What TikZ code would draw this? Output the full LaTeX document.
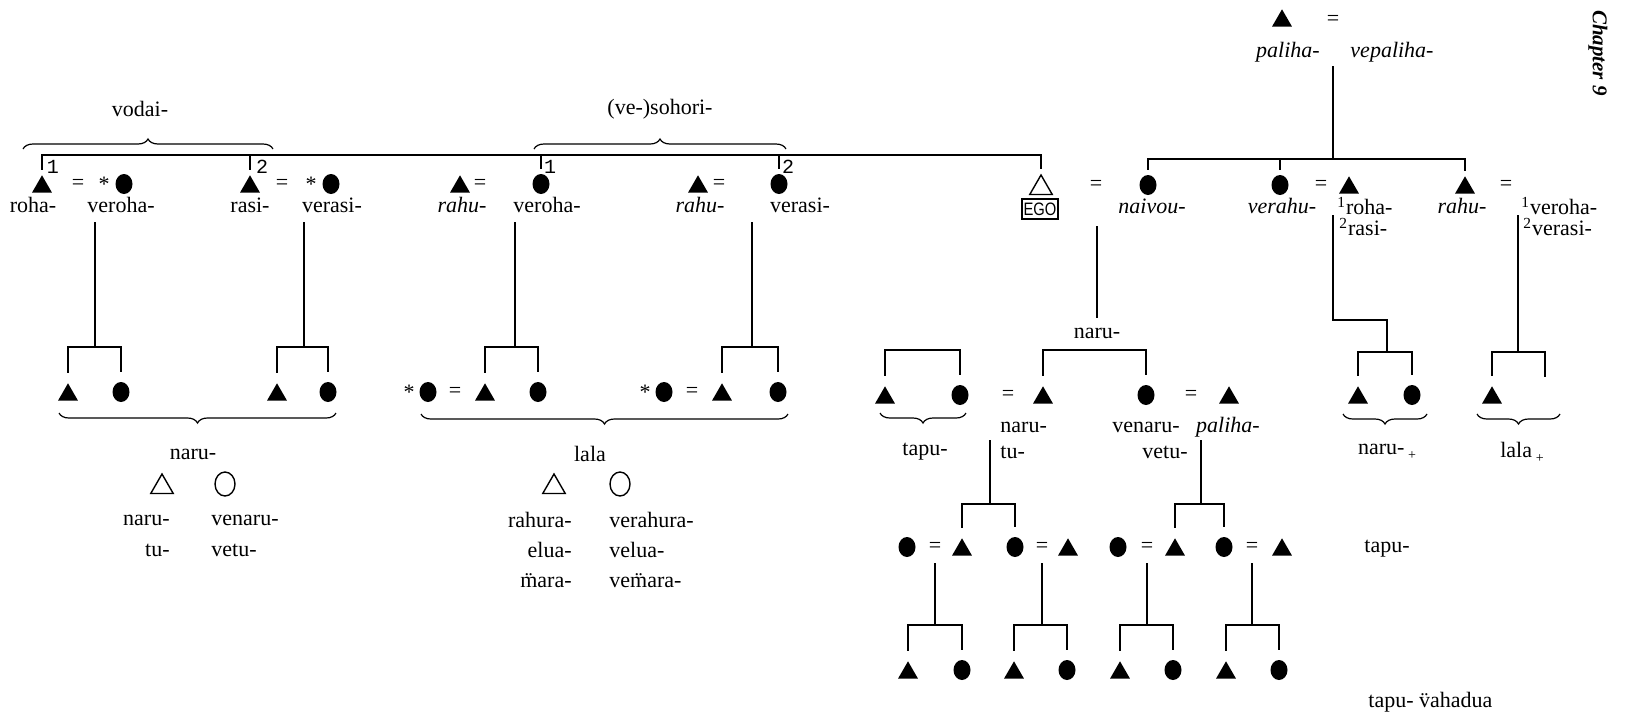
\documentclass[tikz,border=0pt]{standalone}
\usepackage{fontspec}
\setmainfont{Liberation Serif}
\newfontfamily\egofont{Liberation Sans}
\newfontfamily\numfont{Liberation Mono}
\usetikzlibrary{shapes.geometric,decorations.pathreplacing,calc}
\newcommand\dia[1]{\leavevmode\setbox0=\hbox{#1}\hbox to\wd0{\hss\char"A8\hss}\kern-\wd0\box0}
\begin{document}
\begin{tikzpicture}[x=0.5pt,y=-0.5pt,
 mtri/.style={regular polygon,regular polygon sides=3,fill=black,inner sep=0pt,minimum size=11.5pt,yshift=-1.4pt},
 otri/.style={regular polygon,regular polygon sides=3,draw=black,line width=0.7pt,inner sep=0pt,minimum size=13pt,yshift=-1.5pt},
 fcirc/.style={ellipse,fill=black,inner sep=0pt,minimum width=8.5pt,minimum height=10pt},
 ocirc/.style={ellipse,draw=black,line width=0.7pt,inner sep=0pt,minimum width=10pt,minimum height=12pt},
 lbl/.style={inner sep=0pt,font=\fontsize{11}{13}\selectfont},
 ilbl/.style={inner sep=0pt,font=\fontsize{11}{13}\selectfont\itshape},
 numlbl/.style={inner sep=0pt,font=\numfont\fontsize{10}{12}\selectfont},
 ln/.style={line width=1.3pt},
 brc/.style={decorate,decoration={brace,amplitude=5pt},line width=0.6pt}]
\useasboundingbox (0,0) rectangle (1637,719);

% ---------- top right: paliha couple ----------
\node[mtri] (pa) at (1282,18) {};
\node[lbl] (paeq) at (1333,20) {=};
\node[ilbl] (pal) at (1288,52) {paliha-};
\node[ilbl] (vpal) at (1392,52) {vepaliha-};
\coordinate (pstem) at (1333,66);
\coordinate (pbar) at (1333,159);
\node[rotate=-90,inner sep=0pt,font=\fontsize{10.5}{12}\selectfont\bfseries\itshape] (chap) at (1598,53) {Chapter 9};

% ---------- top braces ----------
\node[lbl] (vodai) at (140,109) {vodai-};
\node[lbl] (soh) at (660,109) {(ve-)sohori-};
\coordinate (bv1) at (23,149); \coordinate (bv2) at (273,149);
\coordinate (bs1) at (534,149); \coordinate (bs2) at (786,149);
\draw[brc] (bv1) -- (bv2);
\draw[brc] (bs1) -- (bs2);

% ---------- first generation row ----------
\node[mtri] (m1) at (42,184) {};
\node[lbl] (e1) at (78,184) {=};
\node[lbl] (st1) at (104,184) {*};
\node[fcirc] (w1) at (124,184) {};
\node[lbl] (t1) at (33,205) {roha-};
\node[lbl] (t2) at (121,205) {veroha-};

\node[mtri] (m2) at (250,184) {};
\node[lbl] (e2) at (282,184) {=};
\node[lbl] (st2) at (311,184) {*};
\node[fcirc] (w2) at (331,184) {};
\node[lbl] (t3) at (250,205) {rasi-};
\node[lbl] (t4) at (332,205) {verasi-};

\node[mtri] (h3) at (460,184) {};
\node[lbl] (e3) at (480,184) {=};
\node[fcirc] (s1w) at (541,184) {};
\node[ilbl] (t5) at (462,205) {rahu-};
\node[lbl] (t6) at (547,205) {veroha-};

\node[mtri] (h4) at (698,184) {};
\node[lbl] (e4) at (719,184) {=};
\node[fcirc] (s2w) at (779,184) {};
\node[ilbl] (t7) at (700,205) {rahu-};
\node[lbl] (t8) at (800,205) {verasi-};

\node[otri] (ego) at (1041,185) {};
\node[draw,line width=0.9pt,inner xsep=0.8pt,inner ysep=1.8pt,font=\egofont\fontsize{9}{10}\selectfont] (egob) at (1040,209) {\scalebox{0.82}[1]{EGO}};
\node[lbl] (e5) at (1096,185) {=};
\node[fcirc] (nv) at (1148,185) {};
\node[ilbl] (t9) at (1152,206) {naivou-};

\node[fcirc] (vh) at (1280,185) {};
\node[ilbl] (t10) at (1282,206) {verahu-};
\node[lbl] (e6) at (1321,185) {=};
\node[mtri] (vhh) at (1349,185) {};
\node[lbl,anchor=west] (t11) at (1337,206) {\textsuperscript{1}roha-};
\node[lbl,anchor=west] (t12) at (1339,227) {\textsuperscript{2}rasi-};

\node[mtri] (rh) at (1465,185) {};
\node[ilbl] (t13) at (1462,206) {rahu-};
\node[lbl] (e7) at (1506,185) {=};
\node[lbl,anchor=west] (t14) at (1521,206) {\textsuperscript{1}veroha-};
\node[lbl,anchor=west] (t15) at (1523,227) {\textsuperscript{2}verasi-};

% drop numbers
\node[numlbl] (n1) at (53,167) {1};
\node[numlbl] (n2) at (262,167) {2};
\node[numlbl] (n3) at (550,167) {1};
\node[numlbl] (n4) at (788,167) {2};

% sibling lines
\coordinate (topL) at (0,155);
\draw[ln] ([yshift=2.5pt]m1.north) -- (m1.north |- topL) -- (ego.north |- topL) -- ([yshift=2.5pt]ego.north);
\draw[ln] ([yshift=2.5pt]m2.north) -- (m2.north |- topL);
\draw[ln] ([yshift=2.5pt]s1w.north) -- (s1w.north |- topL);
\draw[ln] ([yshift=2.5pt]s2w.north) -- (s2w.north |- topL);

\draw[ln] (pstem) -- (pbar);
\draw[ln] ([yshift=2.5pt]nv.north) |- (pbar) -| ([yshift=2.5pt]rh.north);
\draw[ln] ([yshift=2.5pt]vh.north) -- (vh.north |- pbar);

% ---------- second generation, left ----------
\coordinate (v1) at (95,222);  \coordinate (b1) at (95,347);
\coordinate (v2) at (304,222); \coordinate (b2) at (304,347);
\coordinate (v3) at (515,222); \coordinate (b3) at (515,347);
\coordinate (v4) at (752,222); \coordinate (b4) at (752,347);
\draw[ln] (v1) -- (b1);
\draw[ln] (v2) -- (b2);
\draw[ln] (v3) -- (b3);
\draw[ln] (v4) -- (b4);

\node[mtri] (c1) at (68,392) {};
\node[fcirc] (c2) at (121,392) {};
\node[mtri] (c3) at (277,392) {};
\node[fcirc] (c4) at (328,392) {};
\draw[ln] ([yshift=5pt]c1.north) |- (b1) -| ([yshift=5pt]c2.north);
\draw[ln] ([yshift=5pt]c3.north) |- (b2) -| ([yshift=5pt]c4.north);

\node[lbl] (st3) at (409,392) {*};
\node[fcirc] (c5w) at (428,392) {};
\node[lbl] (e8) at (455,392) {=};
\node[mtri] (c5) at (485,392) {};
\node[fcirc] (c6) at (538,392) {};
\node[lbl] (st4) at (645,392) {*};
\node[fcirc] (c7w) at (664,392) {};
\node[lbl] (e9) at (692,392) {=};
\node[mtri] (c7) at (722,392) {};
\node[fcirc] (c8) at (778,392) {};
\draw[ln] ([yshift=5pt]c5.north) |- (b3) -| ([yshift=5pt]c6.north);
\draw[ln] ([yshift=5pt]c7.north) |- (b4) -| ([yshift=5pt]c8.north);

% lower braces left
\coordinate (bn1) at (336,413); \coordinate (bn2) at (59,413);
\coordinate (bl1) at (788,414); \coordinate (bl2) at (421,414);
\draw[brc] (bn1) -- (bn2);
\draw[brc] (bl1) -- (bl2);

\node[lbl] (naru) at (193,454) {naru-};
\node[otri] (o1) at (162,484) {};
\node[ocirc] (o2) at (225,484) {};
\node[lbl,anchor=east] (u1) at (170,520) {naru-};
\node[lbl,anchor=west] (u2) at (211,520) {venaru-};
\node[lbl,anchor=east] (u3) at (170,550) {tu-};
\node[lbl,anchor=west] (u4) at (211,550) {vetu-};

\node[lbl] (lala) at (590,454) {lala};
\node[otri] (o3) at (554,484) {};
\node[ocirc] (o4) at (620,484) {};
\node[lbl,anchor=east] (u5) at (572,520) {rahura-};
\node[lbl,anchor=west] (u6) at (609,520) {verahura-};
\node[lbl,anchor=east] (u7) at (572,550) {elua-};
\node[lbl,anchor=west] (u8) at (609,550) {velua-};
\node[lbl,anchor=east] (u9) at (572,581) {\dia{m}ara-};
\node[lbl,anchor=west] (u10) at (609,581) {ve\dia{m}ara-};

% ---------- EGO's children ----------
\coordinate (ev1) at (1097,226); \coordinate (ev2) at (1097,318);
\draw[ln] (ev1) -- (ev2);
\node[lbl] (naru2) at (1097,333) {naru-};
\coordinate (eb) at (1097,350);

\node[mtri] (k1) at (885,395) {};
\node[fcirc] (k2) at (960,395) {};
\coordinate (kb) at (922,350);
\draw[ln] ([yshift=5pt]k1.north) |- (kb) -| ([yshift=5pt]k2.north);
\node[lbl] (e10) at (1008,395) {=};
\node[mtri] (k3) at (1043,395) {};
\node[fcirc] (k4) at (1146,395) {};
\draw[ln] ([yshift=5pt]k3.north) |- (eb) -| ([yshift=5pt]k4.north);
\node[lbl] (e11) at (1191,395) {=};
\node[mtri] (k5) at (1229,395) {};

\coordinate (bt1) at (966,413); \coordinate (bt2) at (880,413);
\draw[brc] (bt1) -- (bt2);
\node[lbl] (tapu) at (925,452) {tapu-};
\node[lbl,anchor=west] (x1) at (1000,427) {naru-};
\node[lbl,anchor=west] (x2) at (1000,452) {tu-};
\node[lbl] (x3) at (1146,427) {venaru-};
\node[lbl,anchor=east] (x4) at (1188,452) {vetu-};
\node[ilbl] (x5) at (1228,427) {paliha-};

% grandchildren
\coordinate (gv1) at (990,440); \coordinate (gb1) at (990,504);
\coordinate (gv2) at (1201,440); \coordinate (gb2) at (1201,504);
\draw[ln] (gv1) -- (gb1);
\draw[ln] (gv2) -- (gb2);

\node[fcirc] (g1w) at (907,547) {};
\node[lbl] (g1e) at (935,547) {=};
\node[mtri] (g1) at (962,547) {};
\node[fcirc] (g2) at (1015,547) {};
\node[lbl] (g2e) at (1042,547) {=};
\node[mtri] (g2h) at (1068,547) {};
\node[fcirc] (g3w) at (1118,547) {};
\node[lbl] (g3e) at (1147,547) {=};
\node[mtri] (g3) at (1175,547) {};
\node[fcirc] (g4) at (1224,547) {};
\node[lbl] (g4e) at (1252,547) {=};
\node[mtri] (g4h) at (1282,547) {};
\draw[ln] ([yshift=5pt]g1.north) |- (gb1) -| ([yshift=5pt]g2.north);
\draw[ln] ([yshift=5pt]g3.north) |- (gb2) -| ([yshift=5pt]g4.north);

\node[lbl] (tapu2) at (1387,549) {tapu-};

% great-grandchildren
\coordinate (q1) at (935,563); \coordinate (qb1) at (935,625);
\coordinate (q2) at (1042,563); \coordinate (qb2) at (1042,625);
\coordinate (q3) at (1147,563); \coordinate (qb3) at (1147,625);
\coordinate (q4) at (1252,563); \coordinate (qb4) at (1252,625);
\draw[ln] (q1) -- (qb1);
\draw[ln] (q2) -- (qb2);
\draw[ln] (q3) -- (qb3);
\draw[ln] (q4) -- (qb4);
\node[mtri] (p1) at (908,670) {};
\node[fcirc] (p2) at (962,670) {};
\node[mtri] (p3) at (1014,670) {};
\node[fcirc] (p4) at (1067,670) {};
\node[mtri] (p5) at (1120,670) {};
\node[fcirc] (p6) at (1173,670) {};
\node[mtri] (p7) at (1226,670) {};
\node[fcirc] (p8) at (1279,670) {};
\draw[ln] ([yshift=5pt]p1.north) |- (qb1) -| ([yshift=5pt]p2.north);
\draw[ln] ([yshift=5pt]p3.north) |- (qb2) -| ([yshift=5pt]p4.north);
\draw[ln] ([yshift=5pt]p5.north) |- (qb3) -| ([yshift=5pt]p6.north);
\draw[ln] ([yshift=5pt]p7.north) |- (qb4) -| ([yshift=5pt]p8.north);
\node[lbl,anchor=west] (tv) at (1368,702) {tapu- \dia{v}ahadua};

% ---------- right side children ----------
\coordinate (rv1) at (1333,215); \coordinate (rv2) at (1333,320);
\coordinate (rv3) at (1387,320); \coordinate (rb) at (1387,352);
\draw[ln] (rv1) -- (rv2) -- (rv3) -- (rb);
\node[mtri] (r1) at (1358,395) {};
\node[fcirc] (r2) at (1412,395) {};
\draw[ln] ([yshift=5pt]r1.north) |- (rb) -| ([yshift=5pt]r2.north);
\coordinate (br1) at (1427,414); \coordinate (br2) at (1343,414);
\draw[brc] (br1) -- (br2);
\node[lbl] (nplus) at (1387,452) {naru-\,\raisebox{-0.5ex}{\scriptsize +}};

\coordinate (lv1) at (1518,215); \coordinate (lb) at (1518,352);
\coordinate (lr1) at (1545,352); \coordinate (lr2) at (1545,377);
\draw[ln] (lv1) -- (lb);
\node[mtri] (l1) at (1492,395) {};
\draw[ln] ([yshift=5pt]l1.north) |- (lb) -- (lr1) -- (lr2);
\coordinate (bq1) at (1560,414); \coordinate (bq2) at (1477,414);
\draw[brc] (bq1) -- (bq2);
\node[lbl] (lplus) at (1522,452) {lala\,\raisebox{-0.5ex}{\scriptsize +}};
\end{tikzpicture}
\end{document}
